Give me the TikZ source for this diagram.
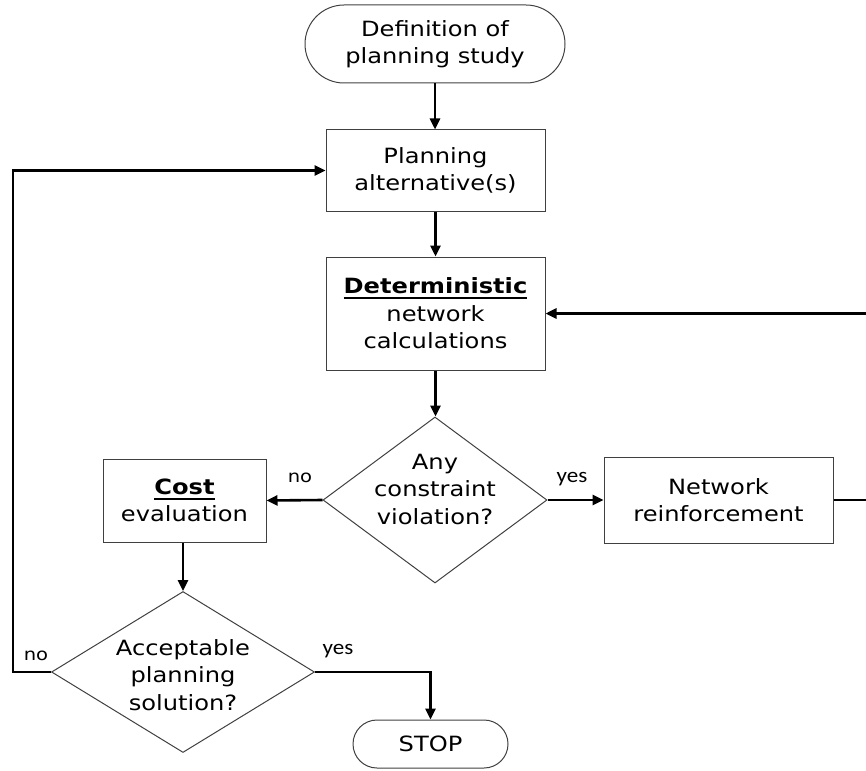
\documentclass[tikz,border=0pt]{standalone}
\usepackage{fontspec}
\setmainfont{DejaVu Sans}[FakeStretch=1.15]
\newfontfamily\carl{Carlito}[FakeStretch=1.1]
\usetikzlibrary{arrows.meta,shapes.geometric}
\newcommand{\myul}[1]{\setbox0\hbox{#1}\rlap{\vrule height -3.5pt depth 5.5pt width \wd0}\box0}
\begin{document}
\begin{tikzpicture}[x=1pt,y=-1pt,
  mainfont/.style={font=\fontsize{21}{27.5}\selectfont},
  box/.style={draw=black!75,line width=1pt,align=center,inner sep=0pt,mainfont},
  dia/.style={draw=black!75,line width=1pt,diamond,inner sep=0pt},
  txt/.style={align=center,inner sep=0pt,mainfont},
  conn/.style={line width=2.6pt,-{Triangle[length=11pt,width=10pt]}},
  lblno/.style={inner sep=0pt,font=\fontsize{17}{20}\selectfont},
  lblyes/.style={inner sep=0pt,font=\carl\fontsize{21}{24}\selectfont}]
\useasboundingbox (0,0) rectangle (866,770);
% nodes
\node[box, rounded corners=39pt, minimum width=260pt, minimum height=78pt] (start) at (435,44) {Definition of\\planning study};
\node[box, minimum width=219pt, minimum height=81pt] (plan) at (435.5,170.5) {Planning\\alternative(s)};
\node[box, minimum width=219pt, minimum height=113pt] (det) at (435.5,313.5) {\myul{\textbf{Deterministic}}\\network\\calculations};
\node[dia, minimum width=224pt, minimum height=166pt] (d1) at (435,500) {};
\node[txt] (d1t) at (435,489) {Any\\constraint\\violation?};
\node[box, minimum width=163pt, minimum height=83pt] (cost) at (184.5,500.5) {\myul{\textbf{Cost}}\\evaluation};
\node[box, minimum width=229pt, minimum height=86pt] (reinf) at (718.5,500) {Network\\reinforcement};
\node[dia, minimum width=263pt, minimum height=161pt] (d2) at (183,672) {};
\node[txt] (d2t) at (183,675) {Acceptable\\planning\\solution?};
\node[box, rounded corners=24pt, minimum width=155pt, minimum height=48pt] (stop) at (430.5,744) {STOP};
% labels
\node[lblno] (no1) at (300,478) {no};
\node[lblyes] (yes1) at (572,479) {yes};
\node[lblno] (no2) at (36,656) {no};
\node[lblyes] (yes2) at (338,651) {yes};
% connectors
\coordinate (rr) at (868,500);
\coordinate (rt) at (868,313.5);
\coordinate (l1) at (13,672);
\coordinate (l2) at (13,170.5);
\coordinate (r2) at (430.5,672);
\draw[conn] (start.south) -- (start.south |- plan.north);
\draw[conn] (plan.south) -- (det.north);
\draw[conn] (det.south) -- (det.south |- d1.north);
\draw[conn] (d1.west) -- (cost.east);
\draw[conn] (d1.east) -- (reinf.west);
\draw[conn] (reinf.east) -- (rr) -- (rt) -- (det.east);
\draw[conn] (d2 |- cost.south) -- (d2.north);
\draw[conn] (d2.west) -- (l1) -- (l2) -- (plan.west);
\draw[conn] (d2.east) -- (r2) -- (stop.north);
\end{tikzpicture}
\end{document}
